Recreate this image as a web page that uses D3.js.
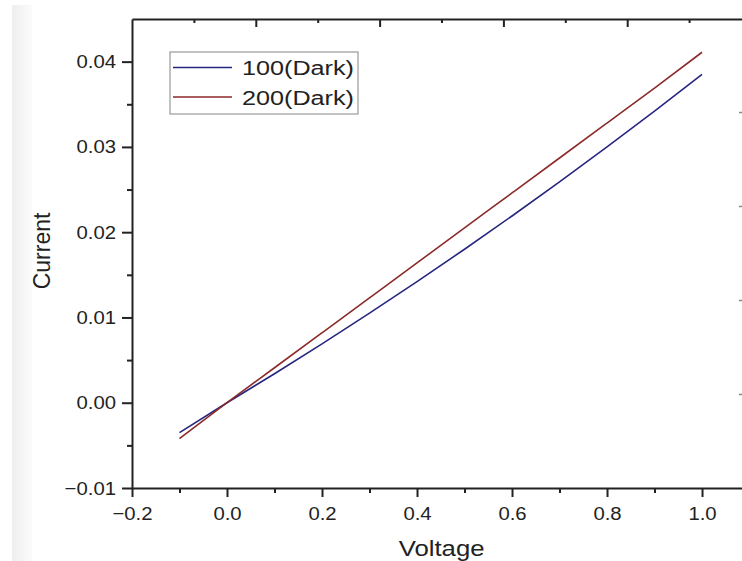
<!DOCTYPE html>
<html>
<head>
<meta charset="utf-8">
<script src="https://cdn.jsdelivr.net/npm/d3@7"></script>
<style>
  body { margin: 0; background: #fff; }
  svg { display: block; font-family: "Liberation Sans", Arial, sans-serif; }
</style>
</head>
<body>
<script>
// data
var volts   = [-0.1, 0.0, 0.1, 0.2, 0.3, 0.4, 0.5, 0.6, 0.7, 0.8, 0.9, 1.0];
var dark100 = [-0.0035, 0.0000, 0.0034, 0.0069, 0.0105, 0.0142, 0.0180, 0.0219, 0.0259, 0.0300, 0.0342, 0.0385];
var dark200 = [-0.0042, 0.0000, 0.0041, 0.0082, 0.0123, 0.0164, 0.0205, 0.0246, 0.0287, 0.0328, 0.0369, 0.0411];
var seriesNames = ["100(Dark)", "200(Dark)"];

var xTicks = [-0.2, 0.0, 0.2, 0.4, 0.6, 0.8, 1.0];
var xMinor = [-0.1, 0.1, 0.3, 0.5, 0.7, 0.9];
var yTicks = [-0.01, 0.00, 0.01, 0.02, 0.03, 0.04];
var yMinor = [-0.005, 0.005, 0.015, 0.025, 0.035];
var topMajor = [1, 2, 3, 4];
var topMinor = [0.5, 1.5, 2.5, 3.5, 4.5];
var edgeMarks = [0, 1, 2, 3];

var W = 742, H = 561;
var lineColor = d3.scaleOrdinal().domain(seriesNames).range(["#262680", "#8c2a2a"]);
var sx = 1.07; // text in the picture is a bit wide

var x = d3.scaleLinear().domain([-0.2, 1.085]).range([132, 742.4]);
var y = d3.scaleLinear().domain([-0.01, 0.045]).range([488, 19]);
var xTop = d3.scaleLinear().domain([0, 5]).range([132, 132 + 5 * 123.8]);
var yEdge = d3.scaleLinear().domain([0, 3]).range([394, 112]);

var svg = d3.select("body").append("svg")
    .attr("width", W)
    .attr("height", H);

// faint grey strip at the left edge
var grad = svg.append("defs").append("linearGradient")
    .attr("id", "strip").attr("x1", 0).attr("x2", 1);
grad.append("stop").attr("offset", 0).attr("stop-color", "#eeeeee");
grad.append("stop").attr("offset", 1).attr("stop-color", "#fbfbfb");
svg.append("rect")
    .attr("x", 12).attr("y", 5).attr("width", 20).attr("height", H - 5)
    .attr("fill", "url(#strip)");

// widen text the way the picture has it
function stretch(sel) {
  sel.selectAll("text").each(function() {
    var t = d3.select(this);
    var x0 = +t.attr("x") || 0;
    t.attr("x", 0).attr("transform", "translate(" + x0 + ",0) scale(" + sx + ",1)");
  });
}

function styleAxis(g, color, width) {
  g.selectAll("path").attr("stroke", color).attr("stroke-width", width);
  g.selectAll("line").attr("stroke", color).attr("stroke-width", width);
}

// bottom axis
var gx = svg.append("g")
    .attr("transform", "translate(0,488)")
    .call(d3.axisBottom(x).tickValues(xTicks).tickSize(9).tickSizeOuter(0).tickPadding(10)
      .tickFormat(d3.format(".1f")));
gx.selectAll("text").attr("font-size", 19).attr("fill", "#222");
styleAxis(gx, "#222", 2);
stretch(gx);
var gxm = svg.append("g")
    .attr("transform", "translate(0,488)")
    .call(d3.axisBottom(x).tickValues(xMinor).tickSize(5).tickFormat(""));
gxm.select(".domain").remove();
styleAxis(gxm, "#222", 2);

// left axis
var gy = svg.append("g")
    .attr("transform", "translate(132,0)")
    .call(d3.axisLeft(y).tickValues(yTicks).tickSize(10).tickSizeOuter(0).tickPadding(6)
      .tickFormat(d3.format(".2f")));
gy.selectAll("text").attr("font-size", 19).attr("fill", "#222");
styleAxis(gy, "#222", 2);
stretch(gy);
var gym = svg.append("g")
    .attr("transform", "translate(132,0)")
    .call(d3.axisLeft(y).tickValues(yMinor).tickSize(5).tickFormat(""));
gym.select(".domain").remove();
styleAxis(gym, "#222", 2);

// top axis, ticks pointing in, no labels
var gt = svg.append("g")
    .attr("transform", "translate(0,19)")
    .call(d3.axisBottom(xTop).tickValues(topMajor).tickSize(8).tickSizeOuter(0).tickFormat(""));
styleAxis(gt, "#222", 2);
var gtm = svg.append("g")
    .attr("transform", "translate(0,19)")
    .call(d3.axisBottom(xTop).tickValues(topMinor).tickSize(4).tickFormat(""));
gtm.select(".domain").remove();
styleAxis(gtm, "#222", 2);

// little marks cut off at the right edge
var ge = svg.append("g")
    .attr("transform", "translate(742,0)")
    .call(d3.axisLeft(yEdge).tickValues(edgeMarks).tickSize(3).tickFormat(""));
ge.select(".domain").remove();
styleAxis(ge, "#888", 1.5);

// curves
var line = d3.line()
    .x(function(d) { return x(d[0]); })
    .y(function(d) { return y(d[1]); })
    .curve(d3.curveMonotoneX);

[dark100, dark200].forEach(function(vals, i) {
  svg.append("path")
    .datum(volts.map(function(v, j) { return [v, vals[j]]; }))
    .attr("fill", "none")
    .attr("stroke", lineColor(seriesNames[i]))
    .attr("stroke-width", 1.6)
    .attr("d", line);
});

// legend
var leg = svg.append("g");
leg.append("rect")
    .attr("x", 170).attr("y", 52).attr("width", 188).attr("height", 62)
    .attr("fill", "#fff").attr("stroke", "#999").attr("stroke-width", 1.2);
seriesNames.forEach(function(name, i) {
  var yy = 67.5 + i * 29.5;
  leg.append("line")
    .attr("x1", 173).attr("x2", 232).attr("y1", yy).attr("y2", yy)
    .attr("stroke", lineColor(name)).attr("stroke-width", 1.6);
  leg.append("text")
    .attr("transform", "translate(242," + (yy + 7.5) + ") scale(1.2,1)")
    .attr("font-size", 21).attr("fill", "#222")
    .text(name);
});

// axis titles
svg.append("text")
    .attr("transform", "translate(441.6,556) scale(1.12,1)")
    .attr("text-anchor", "middle")
    .attr("font-size", 23).attr("fill", "#222")
    .text("Voltage");
svg.append("text")
    .attr("transform", "translate(50,251) rotate(-90)")
    .attr("text-anchor", "middle")
    .attr("font-size", 23).attr("fill", "#222")
    .text("Current");
</script>
</body>
</html>
